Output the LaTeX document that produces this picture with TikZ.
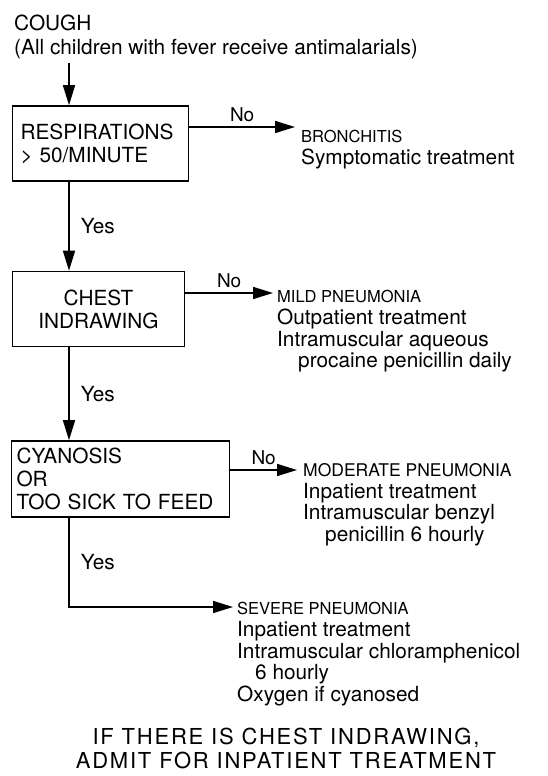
\documentclass[tikz,border=0pt]{standalone}
\usepackage{fontspec}
\setmainfont{TeX Gyre Heros}
\usetikzlibrary{arrows.meta,calc}

\begin{document}
\begin{tikzpicture}[x=1pt,y=-1pt,line cap=butt,line join=miter,
  every node/.style={font=\fontsize{20.8}{21.8}\selectfont,inner sep=0pt},
  test/.style={draw,line width=1.6pt,minimum height=75pt,inner xsep=8pt,
    font=\fontsize{20.8}{23}\selectfont},
  flow/.style={line width=1.6pt,-{Triangle[length=20pt,width=12pt]}},
  outcome/.style={anchor=north west,align=left},
  answer/.style={font=\fontsize{19}{20}\selectfont}]
  \useasboundingbox (0,0) rectangle (547,776);
  \coordinate (trunk) at (69,0);

  % questions
  \node[anchor=north west,align=left] (cough) at (14,15)
    {COUGH\\[2pt](All children with fever receive antimalarials)};
  \node[test,text width=160pt,align=left] (resp) at (100.5,143.5)
    {RESPIRATIONS\\> 50/MINUTE};
  \node[test,text width=156pt,align=center] (chest) at (98.5,309)
    {CHEST\\INDRAWING};
  \node[test,inner xsep=5pt,text width=208pt,align=left,minimum height=76pt]
    (cyan) at (120.5,479) {CYANOSIS\\OR\\TOO SICK TO FEED};

  % outcomes
  \node[outcome] (bron) at (301,130)
    {{\fontsize{16.5}{21}\selectfont BRONCHITIS}\\Symptomatic treatment};
  \node[outcome] (mild) at (277,290)
    {{\fontsize{16.5}{21}\selectfont MILD PNEUMONIA}\\Outpatient treatment\\
     Intramuscular aqueous\\\hspace*{21pt}procaine penicillin daily};
  \node[outcome] (moder) at (303,463)
    {{\fontsize{17.5}{21}\selectfont MODERATE PNEUMONIA}\\Inpatient treatment\\
     Intramuscular benzyl\\\hspace*{22pt}penicillin 6 hourly};
  \node[outcome] (sev) at (237,602)
    {{\fontsize{16.5}{21}\selectfont SEVERE PNEUMONIA}\\Inpatient treatment\\
     Intramuscular chloramphenicol\\\hspace*{18pt}6 hourly\\Oxygen if cyanosed};

  \coordinate (bronin) at ($(bron.north west)+(-6,-3)$);
  \coordinate (mildin) at ($(mild.north west)+(-4,3)$);
  \coordinate (moderin) at ($(moder.north west)+(-6,7)$);
  \coordinate (sevin) at ($(sev.north west)+(-4,5)$);

  % yes branch
  \draw[flow] ($(cough.south -| trunk)+(0,4)$) -- (resp.north -| trunk);
  \draw[flow] (resp.south -| trunk) -- (chest.north -| trunk)
    node[midway,right=11pt] {Yes};
  \draw[flow] (chest.south -| trunk) -- (cyan.north -| trunk)
    node[midway,right=11pt] {Yes};
  \draw[flow] (cyan.south -| trunk) |- (sevin)
    node[pos=0.25,right=11pt] {Yes};

  % no branch
  \draw[flow] (resp.east |- bronin) -- (bronin)
    node[midway,above=4pt,answer] {No};
  \draw[flow] (chest.east |- mildin) -- (mildin)
    node[midway,above=4pt,answer] {No};
  \draw[flow] (cyan.east |- moderin) -- (moderin)
    node[midway,above=4pt,answer] {No};

  \node[anchor=north,align=center,
    font=\fontsize{22}{24}\selectfont\addfontfeatures{LetterSpace=8}]
    (admit) at (286,728)
    {IF THERE IS CHEST INDRAWING,\\ADMIT FOR INPATIENT TREATMENT};
\end{tikzpicture}
\end{document}
